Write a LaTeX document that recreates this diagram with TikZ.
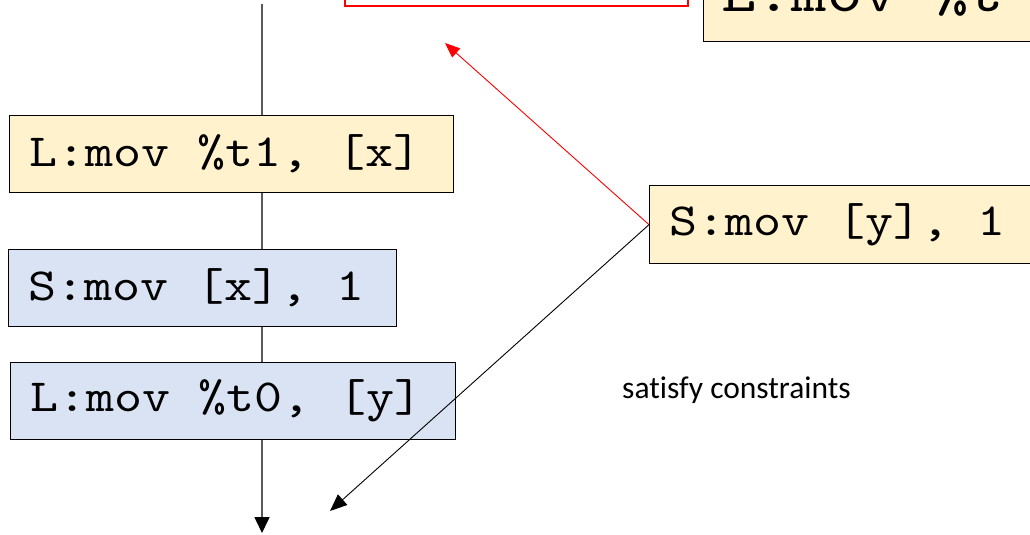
\documentclass[tikz,border=0pt]{standalone}
\usepackage{fontspec}
\usepackage{graphicx}
\newfontfamily\codefont{lmmono10-regular.otf}
\newfontfamily\labelfont[Ligatures={NoCommon}]{Carlito}
\newcommand\wide[1]{\scalebox{1.16}[1]{#1}}
\newcommand\csp{\hbox to \fontcharwd\font`x{\ \hss}}
\usetikzlibrary{arrows.meta}
\definecolor{boxyellow}{HTML}{FFF2CC}
\definecolor{boxblue}{HTML}{DAE3F3}
\definecolor{flowgray}{HTML}{595959}
\tikzset{
  instr/.style={draw=black, line width=1.3pt, rectangle, inner xsep=20pt, inner ysep=0pt,
    align=left, font=\fontsize{46}{50}\selectfont\codefont, anchor=north west},
  ld/.style={instr, fill=boxyellow},
  st/.style={instr, fill=boxblue},
  flow/.style={draw=flowgray, line width=1.6pt, -{Triangle[length=16pt,width=15pt,color=black,fill=black]}},
  redarrow/.style={draw=red, line width=0.9pt, -{Triangle[length=15pt,width=12pt]}},
  blackarrow/.style={draw=black, line width=0.9pt, -{Triangle[length=17pt,width=14pt]}},
}
\begin{document}
\begin{tikzpicture}[x=1pt,y=-1pt]
\useasboundingbox (0,0) rectangle (1030,535);
\clip (0,0) rectangle (1030,535);
% flow line
\coordinate (ftop) at (262,4);
\coordinate (fbot) at (262,533);
\draw[flow] (ftop) -- (fbot);
% partially visible boxes at the top
\node[draw=red, line width=2pt, minimum width=343pt, minimum height=80pt, anchor=south west, inner sep=0pt] (redbox) at (344,7) {};
\node[draw=black, line width=1.3pt, fill=boxyellow, minimum width=380pt, minimum height=100pt, anchor=south west, inner sep=0pt] (topbox) at (703,42) {};
\node[font=\fontsize{58}{62}\selectfont\codefont, anchor=base west, inner sep=0pt] (toptext) at (721,12) {\wide{L:mov\csp\%t}};
% left column
\node[ld, text width=404pt, minimum height=77pt] (b1) at (9,115) {\wide{L:mov\csp\%t1,\csp[x]}};
\node[st, text width=348pt, minimum height=77pt] (b2) at (8,249) {\wide{S:mov\csp[x],\csp1}};
\node[st, text width=405pt, minimum height=77pt] (b3) at (10,362) {\wide{L:mov\csp\%t0,\csp[y]}};
% right store
\node[ld, text width=360pt, minimum height=78pt] (sy) at (649,185) {\wide{S:mov\csp[y],\csp1}};
% arrows
\coordinate (rtip) at (445,43);
\coordinate (btip) at (330,511);
\draw[redarrow] (sy.west) -- (rtip);
\draw[blackarrow] (sy.west) -- (btip);
% label
\node[font=\fontsize{31.5}{35}\selectfont\labelfont, anchor=base west, inner sep=0pt] (lbl) at (622,398) {satisfy constraints};
\end{tikzpicture}
\end{document}
